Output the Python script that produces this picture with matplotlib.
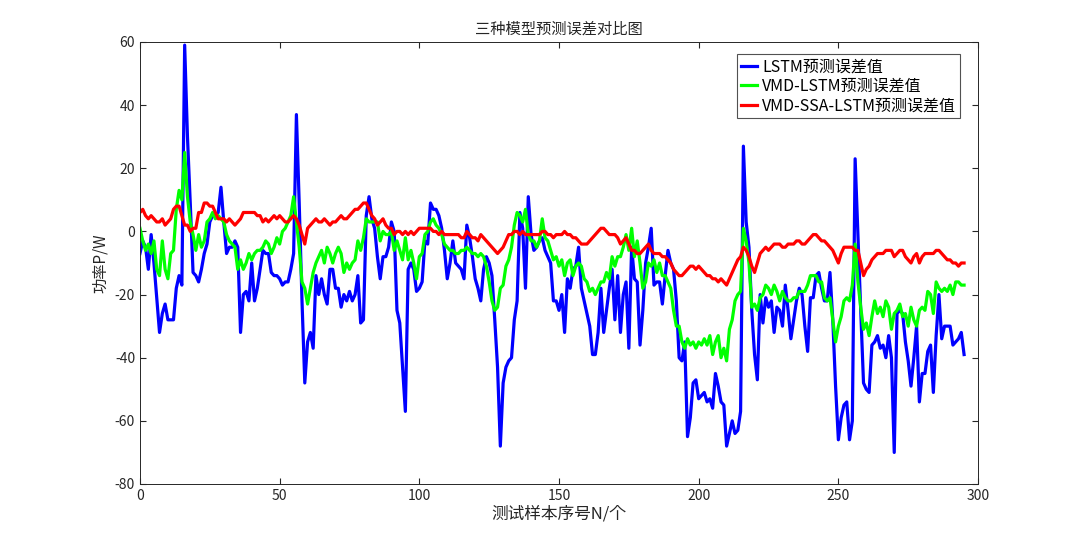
import matplotlib
matplotlib.use("Agg")
import matplotlib.pyplot as plt
from matplotlib import font_manager as fm
import numpy as np

cjk = None
for f in fm.findSystemFonts():
    if "CJK" in f or "cjk" in f.lower():
        try:
            fm.fontManager.addfont(f)
        except Exception:
            pass
names = sorted({e.name for e in fm.fontManager.ttflist if "CJK" in e.name})
for n in ["Noto Sans CJK SC", "Noto Serif CJK SC"] + names:
    if n in names:
        cjk = n
        break
plt.rcParams["font.family"] = [cjk or "Noto Sans CJK SC", "DejaVu Sans"]
plt.rcParams["axes.unicode_minus"] = False

lstm = [
 -7,-3,-5,-12,-1,-10,-21,-32,-26,-23,
 -28,-28,-28,-18,-14,-17,59,30,9,-13,
 -14,-16,-12,-7,-4,3,5,5,6,14,
 3,-7,-5,-5,-3,-5,-32,-20,-19,-22,
 -10,-22,-18,-12,-6,-7,-7,-13,-14,-14,
 -15,-17,-16,-16,-12,-7,37,9,-22,-48,
 -35,-32,-37,-14,-20,-15,-20,-23,-12,-12,
 -18,-18,-24,-20,-22,-19,-22,-20,-14,-29,
 -28,5,11,4,1,-8,-15,-8,-8,-5,
 3,0,-25,-29,-43,-57,-12,-10,-12,-19,
 -18,-16,-3,-4,9,7,7,5,1,-6,
 -15,-10,-3,-10,-11,-12,-15,2,-2,-8,
 -15,-18,-22,-12,-8,-10,-14,-28,-43,-68,
 -48,-43,-41,-40,-28,-22,6,1,-18,11,
 -1,-6,-5,-3,-2,-6,-8,-10,-22,-22,
 -25,-20,-32,-15,-18,-12,-11,-5,-18,-22,
 -26,-30,-39,-39,-32,-18,-32,-25,-18,-12,
 -28,-14,-32,-20,-16,-37,-5,-15,-16,-36,
 -25,-10,-5,1,-17,-16,-16,-23,-14,-6,
 -10,-12,-22,-40,-41,-35,-65,-59,-48,-47,
 -53,-52,-51,-54,-53,-56,-45,-49,-54,-55,
 -68,-64,-60,-64,-63,-57,27,3,-5,-25,
 -39,-47,-20,-29,-21,-24,-22,-32,-24,-25,
 -30,-17,-25,-34,-28,-22,-18,-20,-30,-38,
 -21,-21,-14,-13,-18,-22,-22,-13,-28,-49,
 -66,-59,-55,-54,-66,-60,23,-1,-25,-48,
 -50,-51,-36,-35,-33,-37,-36,-40,-33,-40,
 -70,-26,-25,-26,-35,-41,-49,-40,-30,-54,
 -45,-45,-38,-36,-51,-33,-20,-34,-30,-30,
 -30,-36,-35,-34,-32,-39]

vmd_lstm = [
 1,-3,-6,-4,-7,-3,-12,-14,-3,-12,
 -15,-7,-6,7,13,10,25,11,3,-1,
 -6,-1,-5,-3,3,4,6,4,5,4,
 3,-1,-3,-4,-5,-12,-9,-12,-10,-7,
 -9,-7,-6,-6,-5,-3,-4,-7,-5,-2,
 -4,0,1,3,5,11,3,-5,-16,-18,
 -23,-18,-13,-10,-8,-6,-10,-5,-7,-10,
 -7,-5,-7,-13,-10,-12,-10,-9,-3,-6,
 -2,4,3,3,3,3,-3,0,-1,-1,
 0,-6,-3,-6,-9,-2,-9,-6,-10,-15,
 -8,-7,-1,0,3,4,2,1,-1,-4,
 -5,-6,-6,-7,-7,-6,-6,-5,-6,-7,
 -7,-8,-7,-8,-11,-16,-22,-25,-24,-18,
 -17,-11,-9,-5,2,6,5,3,7,-1,
 -3,-3,-5,-3,4,-2,-3,-6,-9,-8,
 -11,-9,-14,-10,-9,-14,-11,-10,-11,-15,
 -16,-19,-18,-20,-18,-16,-16,-13,-15,-8,
 -11,-8,-8,-5,-1,-6,1,-8,-3,-10,
 -18,-16,-10,-11,-9,-13,-10,-14,-14,-16,
 -18,-25,-30,-30,-35,-37,-34,-36,-35,-37,
 -35,-36,-34,-36,-33,-39,-35,-33,-40,-37,
 -41,-31,-28,-22,-20,-19,1,-3,-10,-24,
 -23,-25,-21,-20,-17,-18,-20,-17,-19,-22,
 -19,-21,-22,-22,-21,-21,-19,-19,-19,-17,
 -14,-14,-14,-16,-16,-21,-22,-21,-28,-35,
 -30,-27,-22,-21,-22,-17,-4,-16,-24,-31,
 -29,-33,-27,-22,-26,-24,-27,-22,-24,-31,
 -26,-25,-23,-27,-26,-30,-24,-28,-30,-25,
 -24,-25,-19,-20,-26,-16,-18,-19,-18,-19,
 -17,-20,-16,-16,-17,-17]

vmd_ssa_lstm = [
 6,7,5,4,5,4,3,3,4,2,
 3,4,7,8,8,5,2,2,0,1,
 1,6,6,9,9,8,8,6,4,4,
 4,3,4,3,2,3,4,6,6,6,
 6,6,5,5,3,4,3,4,5,4,
 5,4,3,3,4,5,4,2,-1,-4,
 1,2,3,4,3,3,4,3,2,3,
 3,4,5,4,4,5,6,7,7,8,
 9,9,7,5,4,2,3,4,2,1,
 1,-1,0,0,-1,0,-1,0,-1,0,
 1,1,1,1,1,0,0,-1,0,-1,
 -1,-1,-1,-1,-1,-2,-2,0,-1,-2,
 -2,-3,-1,-2,-3,-4,-5,-6,-7,-6,
 -5,-3,-1,-1,0,0,-1,0,-1,-1,
 -1,-1,-1,-1,0,0,-1,-1,-2,-1,
 -1,-1,0,-1,-1,-2,-2,-3,-4,-4,
 -4,-3,-2,-1,0,1,1,0,-1,-1,
 -1,-2,-4,-3,-2,-4,-6,-6,-7,-7,
 -6,-5,-4,-6,-7,-7,-7,-8,-8,-9,
 -10,-12,-13,-14,-14,-13,-12,-11,-11,-12,
 -11,-12,-13,-14,-14,-15,-15,-16,-15,-16,
 -17,-15,-13,-11,-9,-8,-5,-6,-8,-11,
 -13,-10,-7,-6,-5,-6,-5,-4,-4,-4,
 -5,-5,-4,-4,-4,-3,-3,-4,-4,-3,
 -2,-1,-1,-2,-3,-3,-4,-5,-6,-8,
 -10,-7,-5,-5,-5,-5,-6,-6,-10,-14,
 -12,-11,-9,-8,-7,-7,-7,-6,-6,-6,
 -8,-7,-6,-6,-8,-9,-10,-8,-7,-10,
 -8,-7,-7,-7,-7,-6,-6,-7,-8,-9,
 -9,-10,-10,-11,-10,-10]

labels = ["LSTM预测误差值", "VMD-LSTM预测误差值", "VMD-SSA-LSTM预测误差值"]
colors = ["#0000ff", "#00ff00", "#ff0000"]
xticks = [0, 50, 100, 150, 200, 250, 300]
yticks = [-80, -60, -40, -20, 0, 20, 40, 60]

fig = plt.figure(figsize=(10.8, 5.44), dpi=100)
ax = fig.add_axes([0.1296, 0.1103, 0.776, 0.8125])
for s, lab, c in zip([lstm, vmd_lstm, vmd_ssa_lstm], labels, colors):
    ax.plot(np.arange(len(s)), s, color=c, lw=2.3, label=lab)
ax.set_xlim(0, 300)
ax.set_ylim(-80, 60)
ax.set_xticks(xticks)
ax.set_yticks(yticks)
ax.tick_params(direction="in", top=True, right=True, labelsize=10, colors="#262626", length=4)
for sp in ax.spines.values():
    sp.set_color("#262626")
    sp.set_linewidth(0.7)
ax.set_title("三种模型预测误差对比图", fontsize=11, color="#262626")
ax.set_xlabel("测试样本序号N/个", fontsize=12, color="#262626", labelpad=2)
ax.set_ylabel("功率P/W", fontsize=11, color="#262626")
leg = ax.legend(loc="upper right", fontsize=11.5, frameon=True, fancybox=False,
                edgecolor="#262626", handlelength=1.0, handletextpad=0.3,
                borderpad=0.25, labelspacing=0.15, borderaxespad=0.5,
                bbox_to_anchor=(0.988, 0.99))
leg.get_frame().set_linewidth(0.8)
fig.savefig("out.png", dpi=100)
